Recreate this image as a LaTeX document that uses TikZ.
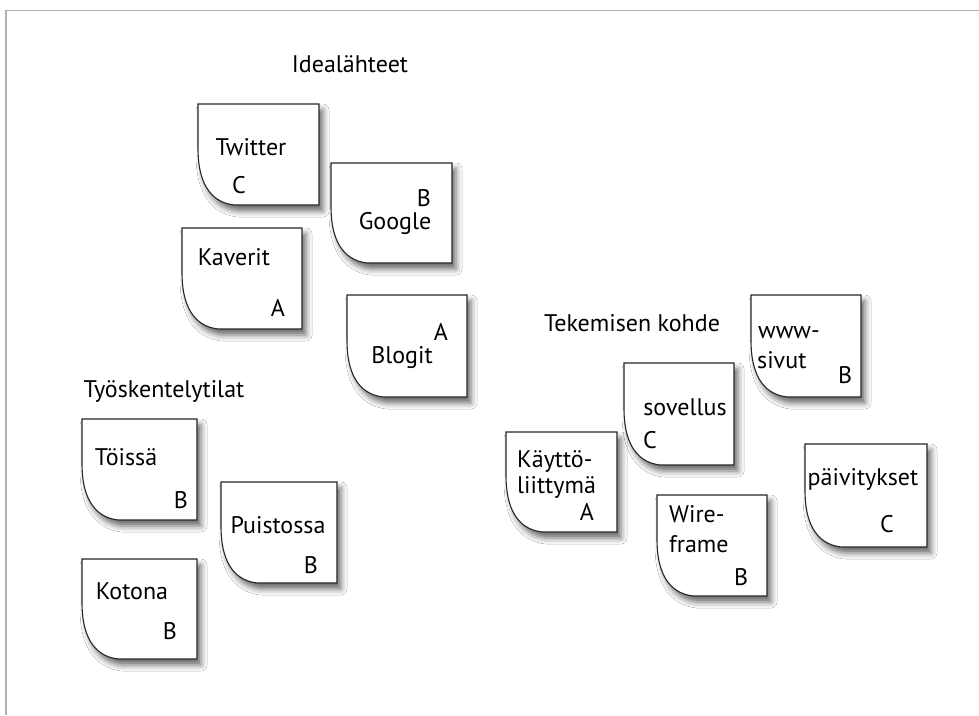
\documentclass[tikz,border=0pt]{standalone}
\usepackage{fontspec}
\setmainfont{PT Sans}
\usetikzlibrary{shadows.blur}

\tikzset{
  card/.style={draw=black!85, line width=1.1pt, fill=white,
    blur shadow={shadow xshift=4pt, shadow yshift=-6pt,
                 shadow blur radius=6pt, shadow opacity=60}},
  lbl/.style={inner sep=0pt, font=\fontsize{24}{28}\selectfont, text=black, anchor=base},
  lblw/.style={lbl, anchor=base west},
  heading/.style={inner sep=0pt, font=\fontsize{24}{28}\selectfont, text=black, anchor=base},
  frameline/.style={draw=black!30, line width=1.6pt}
}

% sticky note with a curled lower-left corner: left, top, right, bottom
\newcommand{\notecard}[4]{%
  \path[card] (#1,#2) -- (#3,#2) -- (#3,#4) -- ({#1+36},#4)
    .. controls ({#1+10},{#4-3}) and (#1,{#4-26}) .. (#1,{#4-56}) -- cycle;}

\begin{document}
\begin{tikzpicture}[x=1pt, y=-1pt]
\useasboundingbox (0,0) rectangle (979,715);
\fill[white] (0,0) rectangle (979,715);

% page frame
\draw[frameline] (979,10.5) -- (6,10.5) -- (6,715);

% group headings
\node[heading] (hIdea) at (350,72) {Idealähteet};
\node[heading] (hTyo) at (164,397) {Työskentelytilat};
\node[heading] (hKohde) at (632,331) {Tekemisen kohde};

% Idealähteet
\notecard{198}{104}{319}{205}
\node[lbl] (twitter) at (251,155) {Twitter};
\node[lbl] (twitterC) at (239,193) {C};

\notecard{331}{163}{452}{263}
\node[lbl] (googleB) at (424,206) {B};
\node[lbl] (google) at (395,229) {Google};

\notecard{182}{228}{302}{329}
\node[lbl] (kaverit) at (234,265) {Kaverit};
\node[lbl] (kaveritA) at (278,316) {A};

\notecard{347}{295}{467}{397}
\node[lbl] (blogitA) at (441,340) {A};
\node[lbl] (blogit) at (402,363) {Blogit};

% Työskentelytilat
\notecard{82}{419}{197}{520}
\node[lbl] (toissa) at (126,465) {Töissä};
\node[lbl] (toissaB) at (181,508) {B};

\notecard{221}{482}{337}{583}
\node[lbl] (puistossa) at (278,533) {Puistossa};
\node[lbl] (puistossaB) at (311,573) {B};

\notecard{82}{559}{197}{659}
\node[lbl] (kotona) at (132,599) {Kotona};
\node[lbl] (kotonaB) at (170,639) {B};

% Tekemisen kohde
\notecard{751}{295}{861}{397}
\node[lblw] (www) at (758,338) {www-};
\node[lblw] (sivut) at (757,368) {sivut};
\node[lbl] (wwwB) at (845,383) {B};

\notecard{624}{363}{734}{465}
\node[lbl] (sovellus) at (685,415) {sovellus};
\node[lbl] (sovellusC) at (650,448) {C};

\notecard{506}{432}{617}{532}
\node[lblw] (kayt) at (517,467) {Käyttö-};
\node[lblw] (liit) at (517,493) {liittymä};
\node[lbl] (kaytA) at (587,520) {A};

\notecard{657}{495}{767}{596}
\node[lblw] (wire) at (669,522) {Wire-};
\node[lblw] (frame) at (669,552) {frame};
\node[lbl] (wireB) at (741,585) {B};

\notecard{805}{444}{927}{547}
\node[lbl] (paiv) at (863,485) {päivitykset};
\node[lbl] (paivC) at (887,532) {C};
\end{tikzpicture}
\end{document}
